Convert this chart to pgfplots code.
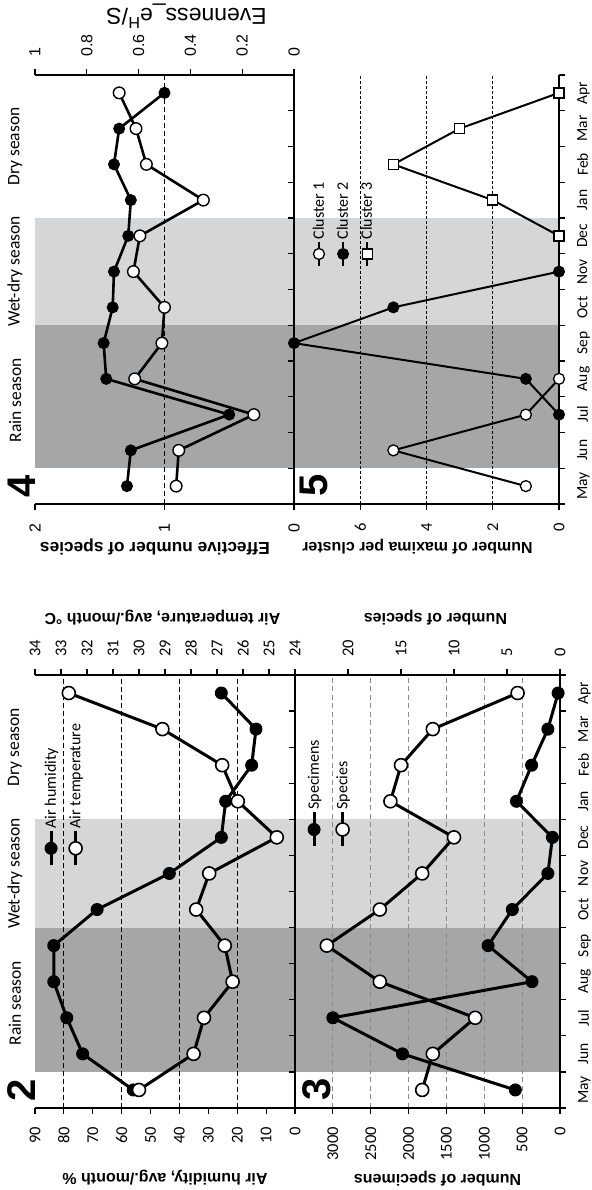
\documentclass[border=0pt]{standalone}
\usepackage{pgfplots}
\pgfplotsset{compat=1.18}
\usepackage{graphicx}
\usepackage{fontspec}
\setmainfont{Liberation Sans}
\newfontfamily\calfont{Carlito}
\newfontfamily\arifont{Liberation Sans}
\newcommand{\fs}[1]{\fontsize{#1}{#1}\selectfont}

\definecolor{raing}{RGB}{165,166,168}
\definecolor{wetg}{RGB}{213,214,216}
\definecolor{gridg}{RGB}{140,140,140}

\tikzset{
  ytitle/.style={font=\bfseries\fs{16}, rotate=90, anchor=center},
  seasonlab/.style={font=\calfont\fs{17.5}, anchor=center},
  pnum/.style={font=\bfseries\fs{40}, anchor=center},
}

\pgfplotsset{
  base/.style={scale only axis, clip=false, xmin=0, xmax=12,
    axis line style={line width=1.4pt, black},
    tick style={line width=1.2pt, black},
    major tick length=6pt, tick align=outside,
    /pgf/number format/assume math mode=true,
    /pgf/number format/1000 sep={},
    scaled ticks=false, anchor=south west},
  bg/.style={base, hide axis},
  leftticks/.style={yticklabel style={font=#1, inner sep=0pt, xshift=-13pt}},
  rightticks/.style={yticklabel style={font=#1, inner sep=0pt, xshift=12pt}},
  months/.style={axis x line*=box, xtick={0,...,12}, xticklabels={},
    extra x ticks={0.5,1.5,...,11.5},
    extra x tick labels={May,Jun,Jul,Aug,Sep,Oct,Nov,Dec,Jan,Feb,Mar,Apr},
    extra x tick style={major tick length=0pt},
    xticklabel style={font=\calfont\fs{15.5}, inner sep=0pt, yshift=-18pt}},
  leg/.style={legend cell align=left,
    legend style={draw=none, fill=none, inner sep=0pt, font=\calfont\fs{16},
      row sep=#1, nodes={inner sep=1.5pt}},
    legend image code/.code={\draw[mark repeat=2, mark phase=2, ##1] plot coordinates {(0pt,0pt) (17pt,0pt) (34pt,0pt)};}},
  fillc/.style={line width=3pt, line join=round, black, mark=*, mark size=6pt,
    mark options={solid, fill=black, draw=black, line width=1pt}},
  openc/.style={line width=3pt, line join=round, black, mark=*, mark size=6.5pt,
    mark options={solid, fill=white, draw=black, line width=1.6pt}},
  fillc4/.style={line width=2.6pt, line join=round, black, mark=*, mark size=5.5pt,
    mark options={solid, fill=black, draw=black, line width=1pt}},
  openc4/.style={line width=2.6pt, line join=round, black, mark=*, mark size=5.8pt,
    mark options={solid, fill=white, draw=black, line width=1.4pt}},
  c1/.style={line width=2pt, black, mark=*, mark size=5.5pt,
    mark options={solid, fill=white, draw=black, line width=1.3pt}},
  c2/.style={line width=2pt, black, mark=*, mark size=5.5pt,
    mark options={solid, fill=black, draw=black, line width=1pt}},
  c3/.style={line width=2pt, black, mark=square*, mark size=5pt,
    mark options={solid, fill=white, draw=black, line width=1.3pt}},
  gdash/.style={black, line width=0.9pt, dash pattern=on 5pt off 3pt},
}

\begin{document}
\rotatebox{90}{%
\begin{tikzpicture}
\path (0,0) rectangle (1190pt,591pt);

%================ Panel 2 background ================
\begin{axis}[bg, at={(82pt,296pt)}, width=433pt, height=260pt, ymin=0, ymax=90]
  \addplot[draw=none, fill=raing] coordinates {(1,0) (1,90) (5,90) (5,0)};
  \addplot[draw=none, fill=wetg] coordinates {(5,0) (5,90) (8,90) (8,0)};
  \addplot[gdash] coordinates {(0,20) (12,20)};
  \addplot[gdash] coordinates {(0,40) (12,40)};
  \addplot[gdash] coordinates {(0,60) (12,60)};
  \addplot[gdash] coordinates {(0,80) (12,80)};
\end{axis}
%================ Panel 2 : humidity (left) ================
\begin{axis}[base, at={(82pt,296pt)}, width=433pt, height=260pt,
  ymin=0, ymax=90, ytick={0,10,...,90},
  axis y line*=left, axis x line=none, leftticks={\calfont\fs{16.5}}]
  \addplot[fillc] coordinates {(0.5,56) (1.5,73.5) (2.5,79) (3.5,83.5) (4.5,83.5) (5.5,68.5)
    (6.5,43.5) (7.5,25.5) (8.5,24) (9.5,15) (10.5,13.5) (11.5,25.5)};
  \node[seasonlab] at (rel axis cs:0.2417,1.077) {Rain season};
  \node[seasonlab] at (rel axis cs:0.5417,1.077) {Wet-dry season};
  \node[seasonlab] at (rel axis cs:0.8333,1.077) {Dry season};
  \node[pnum] at (rel axis cs:0.041,1.05) {2};
  \node[ytitle] at (rel axis cs:-0.160,0.5) {Air humidity, avg./month \%};
\end{axis}
%================ Panel 2 : temperature (right) ================
\begin{axis}[base, at={(82pt,296pt)}, width=433pt, height=260pt,
  ymin=24, ymax=34, ytick={24,...,34},
  axis y line*=right, axis x line=none, rightticks={\calfont\fs{16.5}},
  leg=9pt, legend style={at={(0.5566,0.969)}, anchor=north west}]
  \addlegendimage{fillc}
  \addlegendentry{Air humidity}
  \addplot[openc] coordinates {(0.5,30.0) (1.5,27.9) (2.5,27.5) (3.5,26.4) (4.5,26.7) (5.5,27.8)
    (6.5,27.3) (7.5,24.7) (8.5,26.2) (9.5,26.8) (10.5,29.1) (11.5,32.7)};
  \addlegendentry{Air temperature}
  \node[ytitle] at (rel axis cs:1.1316,0.51) {Air temperature, avg./month °C};
\end{axis}

%================ Panel 3 background ================
\begin{axis}[bg, at={(82pt,31pt)}, width=433pt, height=265pt, ymin=0, ymax=3500]
  \addplot[draw=none, fill=raing] coordinates {(1,0) (1,3500) (5,3500) (5,0)};
  \addplot[draw=none, fill=wetg] coordinates {(5,0) (5,3500) (8,3500) (8,0)};
  \addplot[gdash, gridg, dash pattern=on 5pt off 3.5pt] coordinates {(0,500) (12,500)};
  \addplot[gdash, gridg, dash pattern=on 5pt off 3.5pt] coordinates {(0,1000) (12,1000)};
  \addplot[gdash, gridg, dash pattern=on 5pt off 3.5pt] coordinates {(0,1500) (12,1500)};
  \addplot[gdash, gridg, dash pattern=on 5pt off 3.5pt] coordinates {(0,2000) (12,2000)};
  \addplot[gdash, gridg, dash pattern=on 5pt off 3.5pt] coordinates {(0,2500) (12,2500)};
  \addplot[gdash, gridg, dash pattern=on 5pt off 3.5pt] coordinates {(0,3000) (12,3000)};
\end{axis}
%================ Panel 3 : specimens (left) ================
\begin{axis}[base, at={(82pt,31pt)}, width=433pt, height=265pt,
  ymin=0, ymax=3500, ytick={0,500,...,3000},
  axis y line*=left, months, leftticks={\calfont\fs{16.5}}]
  \addplot[fillc] coordinates {(0.5,590) (1.5,2080) (2.5,3000) (3.5,370) (4.5,950) (5.5,630)
    (6.5,160) (7.5,100) (8.5,575) (9.5,375) (10.5,160) (11.5,25)};
  \node[pnum] at (rel axis cs:0.042,0.919) {3};
  \node[ytitle] at (rel axis cs:-0.162,0.462) {Number of specimens};
\end{axis}
%================ Panel 3 : species (right) ================
\begin{axis}[base, at={(82pt,31pt)}, width=433pt, height=265pt,
  ymin=0, ymax=25, ytick={0,5,...,20},
  axis y line*=right, axis x line=none, rightticks={\calfont\fs{16.5}},
  leg=13pt, legend style={at={(0.600,0.958)}, anchor=north west}]
  \addlegendimage{fillc}
  \addlegendentry{Specimens}
  \addplot[openc] coordinates {(0.5,13) (1.5,12) (2.5,8) (3.5,17) (4.5,22) (5.5,17)
    (6.5,13) (7.5,10) (8.5,16) (9.5,15) (10.5,12) (11.5,4)};
  \addlegendentry{Species}
  \node[ytitle] at (rel axis cs:1.1316,0.47) {Number of species};
\end{axis}

%================ Panel 4 background ================
\begin{axis}[bg, at={(686pt,297pt)}, width=429pt, height=259pt, ymin=0, ymax=2]
  \addplot[draw=none, fill=raing] coordinates {(1,0) (1,2) (5,2) (5,0)};
  \addplot[draw=none, fill=wetg] coordinates {(5,0) (5,2) (8,2) (8,0)};
  \addplot[gdash] coordinates {(0,1) (12,1)};
\end{axis}
%================ Panel 4 : effective number (left) ================
\begin{axis}[base, at={(686pt,297pt)}, width=429pt, height=259pt,
  ymin=0, ymax=2, ytick={0,1,2},
  axis y line*=left, axis x line=none, leftticks={\arifont\fs{16}}]
  \addplot[fillc4] coordinates {(0.5,1.29) (1.5,1.26) (2.5,0.50) (3.5,1.45) (4.5,1.47) (5.5,1.40)
    (6.5,1.39) (7.5,1.28) (8.5,1.26) (9.5,1.39) (10.5,1.35) (11.5,1.00)};
  \node[seasonlab] at (rel axis cs:0.2417,1.077) {Rain season};
  \node[seasonlab] at (rel axis cs:0.5417,1.077) {Wet-dry season};
  \node[seasonlab] at (rel axis cs:0.8333,1.077) {Dry season};
  \node[pnum] at (rel axis cs:0.041,1.05) {4};
  \node[ytitle, font=\bfseries\fs{17.3}] at (rel axis cs:-0.100,0.537) {Effective number of species};
\end{axis}
%================ Panel 4 : evenness (right) ================
\begin{axis}[base, at={(686pt,297pt)}, width=429pt, height=259pt,
  ymin=0, ymax=1, ytick={0,0.2,0.4,0.6,0.8,1},
  axis y line*=right, axis x line=none, rightticks={\arifont\fs{16}}]
  \addplot[openc4] coordinates {(0.5,0.455) (1.5,0.445) (2.5,0.155) (3.5,0.615) (4.5,0.51) (5.5,0.50)
    (6.5,0.62) (7.5,0.595) (8.5,0.35) (9.5,0.57) (10.5,0.61) (11.5,0.675)};
  \node[ytitle, font=\fs{23}] at (rel axis cs:1.138,0.415) {Evenness\_e\textsuperscript{H}/S};
\end{axis}

%================ Panel 5 background ================
\begin{axis}[bg, at={(686pt,32pt)}, width=429pt, height=265pt, ymin=0, ymax=8]
  \addplot[draw=none, fill=raing] coordinates {(1,0) (1,8) (5,8) (5,0)};
  \addplot[draw=none, fill=wetg] coordinates {(5,0) (5,8) (8,8) (8,0)};
  \addplot[gdash, dash pattern=on 3pt off 2pt] coordinates {(0,2) (12,2)};
  \addplot[gdash, dash pattern=on 3pt off 2pt] coordinates {(0,4) (12,4)};
  \addplot[gdash, dash pattern=on 3pt off 2pt] coordinates {(0,6) (12,6)};
\end{axis}
%================ Panel 5 : maxima per cluster ================
\begin{axis}[base, at={(686pt,32pt)}, width=429pt, height=265pt,
  ymin=0, ymax=8, ytick={0,2,4,6},
  axis y line*=left, months, leftticks={\calfont\fs{16.5}},
  leg=8.5pt, legend style={at={(0.552,0.936)}, anchor=north west},
  legend image code/.code={\draw[mark repeat=2, mark phase=2, #1] plot coordinates {(0pt,0pt) (12pt,0pt) (24pt,0pt)};}]
  \addplot[c1] coordinates {(0.5,1) (1.5,5) (2.5,1) (3.5,0)};
  \addlegendentry{Cluster 1}
  \addplot[c2] coordinates {(2.5,0) (3.5,1) (4.5,8) (5.5,5) (6.5,0)};
  \addlegendentry{Cluster 2}
  \addplot[c3] coordinates {(7.5,0) (8.5,2) (9.5,5) (10.5,3) (11.5,0)};
  \addlegendentry{Cluster 3}
  \node[pnum] at (rel axis cs:0.044,0.923) {5};
  \node[ytitle] at (rel axis cs:-0.100,0.534) {Number of maxima per cluster};
\end{axis}

\end{tikzpicture}}
\end{document}
